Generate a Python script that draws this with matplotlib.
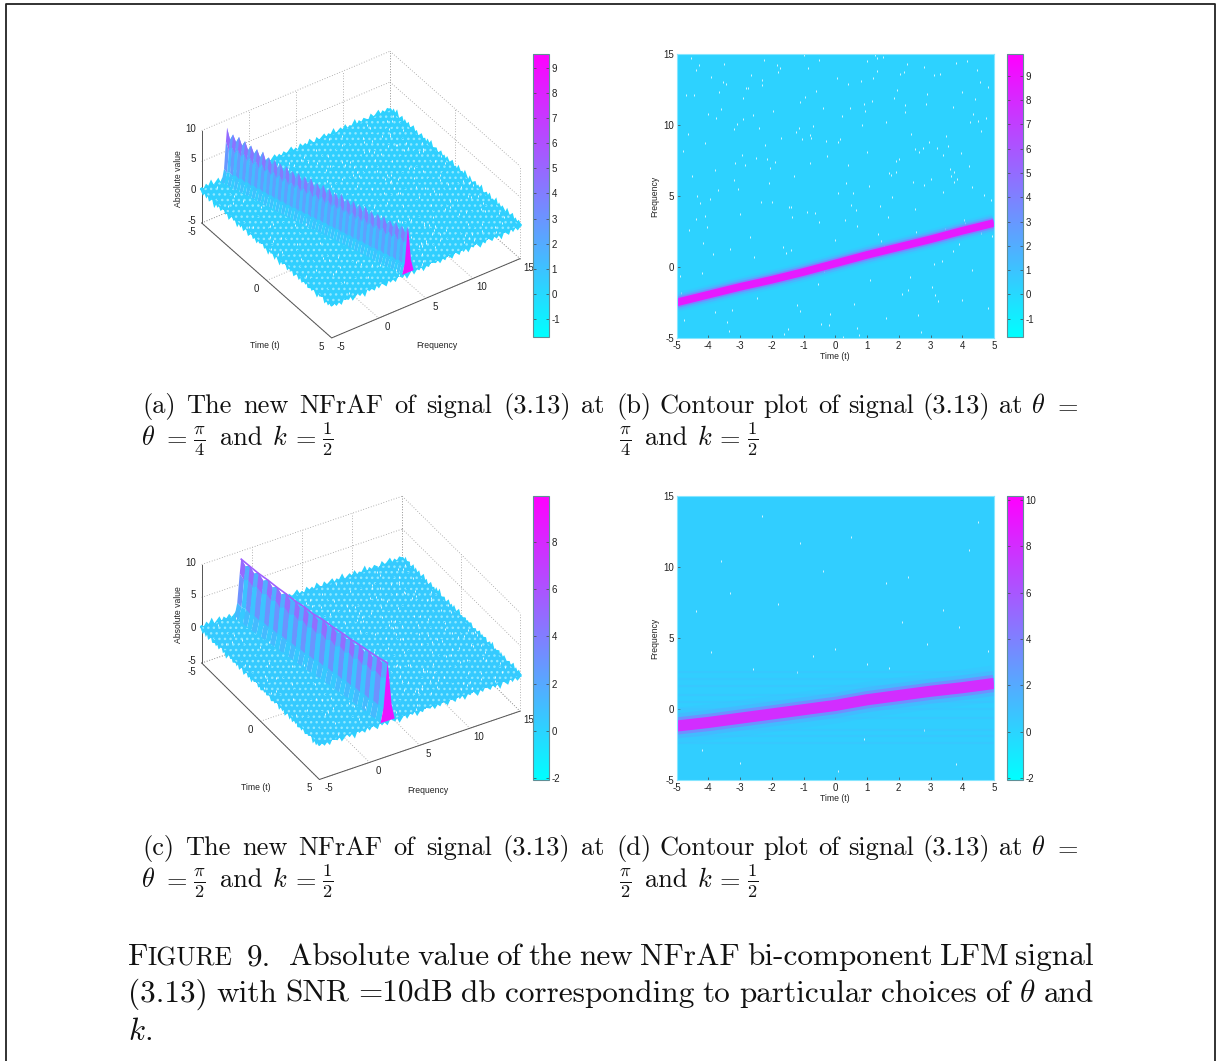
import numpy as np
import matplotlib
matplotlib.use("Agg")
import matplotlib.pyplot as plt
from matplotlib.cm import ScalarMappable
from matplotlib.colors import Normalize
from matplotlib.lines import Line2D
from mpl_toolkits.mplot3d import proj3d
from mpl_toolkits.mplot3d.art3d import Poly3DCollection

W, H = 1216, 1061
plt.rcParams["font.family"] = ["Liberation Sans", "DejaVu Sans"]
plt.rcParams["mathtext.fontset"] = "cm"
plt.rcParams["axes.unicode_minus"] = False
plt.rcParams["hatch.color"] = "#90e8ff"
SERIF = "cmr10"

# ticks
time_ticks = [-5, -4, -3, -2, -1, 0, 1, 2, 3, 4, 5]
time_ticks_3d = [-5, 0, 5]
freq_ticks = [-5, 0, 5, 10, 15]
freq_ticks_3d = [-5, 0, 5, 10, 15]
abs_ticks = [-5, 0, 5, 10]

# colour bars
bar_a_range = (-1.73, 9.57)
bar_a_ticks = [-1, 0, 1, 2, 3, 4, 5, 6, 7, 8, 9]
bar_b_range = (-1.75, 9.89)
bar_b_ticks = [-1, 0, 1, 2, 3, 4, 5, 6, 7, 8, 9]
bar_c_range = (-2.1, 9.97)
bar_c_ticks = [-2, 0, 2, 4, 6, 8]
bar_d_range = (-2.09, 10.17)
bar_d_ticks = [-2, 0, 2, 4, 6, 8, 10]

# ridge centre
ridge_t = [-5, -4, -3, -2, -1, 0, 1, 2, 3, 4, 5]
ridge_b_f = [-2.5, -1.95, -1.4, -0.9, -0.35, 0.25, 0.85, 1.4, 1.95, 2.55, 3.1]
ridge_d_f = [-1.2, -0.95, -0.65, -0.35, -0.05, 0.25, 0.65, 0.95, 1.25, 1.5, 1.8]

# faint horizontal streaks around the ridge of panel d
band_d_f = [-2.4, -1.9, -1.5, -0.6, 0.0, 0.5, 1.0, 1.6, 2.1, 2.6]

# crest heights of the 3d ridges
a_peak_t = [-4.9, -4.57, -4.24, -3.91, -3.58, -3.25, -2.92, -2.59, -2.26, -1.93, -1.6,
            -1.27, -0.94, -0.61, -0.28, 0.05, 0.38, 0.71, 1.04, 1.37, 1.7, 2.03, 2.36,
            2.69, 3.02, 3.35, 3.68, 4.01, 4.34, 4.67, 5.0]
a_peak_z = [8.6, 8.0, 8.1, 7.9, 7.7, 7.6, 7.7, 7.3, 7.4, 7.3, 7.4, 7.1, 7.3, 7.2, 7.4, 7.1,
            7.3, 7.2, 7.0, 7.3, 7.0, 7.2, 7.1, 7.3, 7.0, 7.1, 7.2, 7.0, 7.2, 7.1, 7.4]
a_valley_z = [6.9, 7.0, 6.9, 6.7, 6.6, 6.5, 6.4, 6.3, 6.3, 6.2, 6.2, 6.2, 6.1, 6.2, 6.2,
              6.2, 6.1, 6.0, 6.1, 6.1, 6.1, 6.0, 6.1, 6.1, 6.0, 6.1, 6.0, 6.1, 6.1, 6.2]
c_peak_t = [-4.9, -4.3, -3.7, -3.05, -2.45, -1.85, -1.2, -0.6, 0.0, 0.6, 1.2, 1.85, 2.45,
            3.05, 3.7, 4.3, 5.0]
c_peak_z = [8.7, 8.6, 8.5, 8.5, 8.4, 8.4, 8.3, 8.4, 8.3, 8.4, 8.3, 8.4, 8.4, 8.5, 8.6, 8.7, 8.9]
c_valley_z = [8.0, 7.9, 7.8, 7.8, 7.7, 7.7, 7.7, 7.7, 7.7, 7.7, 7.7, 7.8, 7.8, 7.9, 8.0, 8.2]

# jagged rim of the noise floor
edge_z = [0.5, 0.1, 0.7, 0.2, 0.9, 0.0, 0.4, 0.8, -0.1, 0.6, 0.2, 0.7, 0.1, 0.5, 0.9, 0.2,
          0.6, -0.1, 0.4, 0.8, 0.3, 0.6, 0.0, 0.7, 0.3, 0.9, 0.1, 0.5, 0.7, 0.0, 0.4, 0.8,
          0.2, 0.6, 0.1, 0.7, 0.3, 0.5, 0.9, 0.2, 0.5, 0.0, 0.8, 0.3, 0.6, 0.1, 0.9, 0.4,
          -0.1, 0.7, 0.2, 0.5, 0.8, 0.1, 0.6, 0.3, 0.9, 0.0, 0.4, 0.7, 0.2, 0.8, 0.1, 0.5,
          0.3, 0.9, -0.1, 0.6, 0.2, 0.7, 0.4, 0.0, 0.8, 0.3, 0.5, 0.9, 0.1, 0.6, 0.2, 0.7, 0.4]

# white flecks (holes in the mesh), approximate
speck_t = [-4.7, -4.4, -4.1, -3.8, -3.5, -3.2, -2.9, -2.6, -2.3, -2.0, -1.7, -1.4, -1.1, -0.8, -0.5,
           -0.2, 0.1, 0.4, 0.7, 1.0, 1.3, 1.6, 1.9, 2.2, 2.5, 2.8, 3.1, 3.4, 3.7, 4.0, 4.3, 4.6,
           -4.5, -3.9, -3.3, -2.4, -1.5, -0.6, 0.5, 1.5, 2.3, 3.2, 4.1, 4.8, -4.2, -3.1, -2.1,
           -1.2, -0.3, 0.8, 1.8, 2.7, 3.6, 4.4, -4.8, -3.6, -2.7, -1.8, -0.9, 0.2, 1.1, 2.0,
           2.9, 3.9, 4.7, -4.3, -3.4, -2.2, -1.3, -0.4, 0.6, 1.4, 2.4, 3.3, 4.2, -4.6, -3.7,
           -2.8, -1.6, -0.7, 0.3, 1.2, 2.1, 3.0, 3.8, 4.5, -4.0, -3.0, -1.9, -1.0, 0.0, 0.9,
           1.7, 2.6, 3.5, 4.9, -4.9, -3.2, -2.5, -1.1, 0.4, 1.6, 2.8, 4.0, -4.4, -2.9, -1.4,
           0.1, 1.3, 2.5, 3.4, 4.6, -3.8, -2.3, -0.8, 0.7, 1.9, 3.1, 4.3, -4.1, -2.6, -0.5,
           1.0, 2.2, 3.7, 4.8,
           -4.65, -4.15, -3.55, -3.05, -2.45, -1.95, -1.35, -0.85, -0.25, 0.25, 0.85, 1.35, 1.95, 2.45,
           3.05, 3.55, 4.15, 4.65, -4.35, -3.75, -3.25, -2.65, -2.05, -1.55, -0.95, -0.45, 0.15, 0.65,
           1.25, 1.75, 2.35, 2.85, 3.45, 3.95, 4.55, -4.85, -4.25, -3.65, -3.15, -2.55, -1.85, -1.25,
           -0.65, -0.15, 0.45, 1.05, 1.55, 2.15, 2.75, 3.25, 3.85, 4.35, 4.95, -4.55, -3.95, -3.35,
           -2.75, -2.15, -1.65, -1.05, -0.55, 0.05, 0.55, 1.15, 1.65, 2.25, 2.95, 3.35, 3.75, 4.25,
           -4.75, -4.05, -3.45, -2.85, -2.35, -1.75, -1.15, -0.35, 0.35, 0.95, 1.45, 2.05, 2.65, 3.15,
           3.65, 4.05, 4.75, -4.45, -3.85, -2.95, -2.25, -1.45, -0.75, 0.75, 1.85, 2.55, 3.75, 4.45]
speck_f = [12.1, 3.4, 8.7, -3.2, 14.3, 6.1, 10.4, -1.1, 13.2, 4.6, 9.1, 1.2, 11.6, 7.3, 14.6,
           -4.1, 5.2, 12.9, 2.9, 8.1, 13.8, -3.6, 6.7, 10.9, 4.1, 14.1, 0.2, 7.9, 11.3, -2.3,
           5.6, 9.6, 6.4, 13.4, 1.3, 9.8, -4.4, 12.4, 4.4, 14.8, -1.6, 8.4, 3.1, 12.7, -0.4,
           10.1, 5.9, -2.7, 8.9, 13.1, 4.9, -4.6, 6.9, 11.8, 8.2, 11.1, 2.1, 13.7, 3.9, 10.6,
           -0.9, 7.6, 12.2, 1.6, 5.1, 14.2, -3.9, 8.6, 6.4, 11.2, -2.6, 4.3, 9.4, 13.6, 7.1,
           2.6, 5.4, 12.6, -4.7, 9.9, 3.3, 13.3, -1.9, 6.2, 14.4, 10.3, 10.8, 3.7, 7.4, 14.9,
           1.9, 11.5, 6.6, -3.4, 9.2, 4.7, -0.6, 9.7, 7.7, -3.1, 7.2, 10.2, 5.8, 12.3, 13.9,
           11.9, 4.2, 8.8, 14.7, 8.3, 5.3, 2.4, 6.8, 12.8, 9.3, -4.3, 7.5, 13.5, -0.2, 3.6,
           10.7, 3.2, 14.5, 11.4, 1.1, -2.9,
           9.4, 1.7, 13.0, 5.5, -2.2, 11.0, 3.5, 14.0, 7.8, -4.9, 10.0, 2.3, 12.5, 6.0, -1.4, 8.5,
           14.5, 3.0, 5.0, 10.5, -3.0, 13.5, 7.0, 1.0, 12.0, -4.0, 9.0, 4.0, 14.9, 6.5, -0.7, 11.5,
           2.7, 8.0, 13.0, -1.8, 4.5, 12.3, 7.3, 0.7, 14.2, 9.5, 3.8, -3.3, 11.2, 5.7, 1.5, 13.7,
           8.4, -2.4, 6.2, 10.8, 2.2, 14.7, 4.8, -4.5, 12.6, 7.6, 1.4, 9.0, -1.2, 13.3, 5.2, 11.7,
           3.5, 14.3, 8.8, 0.4, 6.7, 10.2, -3.7, 2.8, 12.9, 7.2, 4.6, 14.0, 9.8, -0.3, 5.9, 11.0,
           1.8, 13.6, 8.1, -2.0, 6.4, 3.3, 10.5, 12.1, 0.9, 7.9, 14.6, 4.2, 9.1, -4.8, 11.9, 2.5,
           6.0, 13.9]
speck_d_t = [-4.4, -3.9, -3.3, -2.6, -1.8, -1.2, -0.7, 0.0, 0.5, 1.0, 1.7, 2.3, 2.9, 3.4, 3.9,
             4.5, 4.8, -4.2, -3.0, -1.1, 0.1, 1.6, 2.8, 3.8, -3.6, -2.3, -0.4, 0.9, 2.1, 4.2]
speck_d_f = [6.9, 4.0, 8.2, 2.8, 7.4, 2.6, 3.7, 4.2, 12.1, 3.2, 2.9, 9.3, 4.6, 7.0, 5.8,
             13.2, 4.1, -2.9, -3.8, 11.7, -4.4, 8.9, -1.5, -3.9, 10.4, 13.6, 9.7, -2.1, 6.1, 11.2]

cmap = plt.get_cmap("cool")
frame_grey = "#555555"


def axes_px(x0, y0, x1, y1):
    return [x0 / W, 1 - y1 / H, (x1 - x0) / W, (y1 - y0) / H]


def add_bar(box, rng, ticks):
    cax = fig.add_axes(axes_px(*box), zorder=20)
    sm = ScalarMappable(Normalize(*rng), cmap)
    cb = fig.colorbar(sm, cax=cax, ticks=ticks)
    cb.outline.set_edgecolor("#5f8f96")
    cb.outline.set_linewidth(0.8)
    cax.tick_params(direction="in", length=2, width=0.5, labelsize=7, pad=2, color="#444444",
                    left=True, right=True, labelcolor="#222222")
    return cb


def contour_panel(box, ridge_f, rng, specks, widths, alphas, core, bands=()):
    ax = fig.add_axes(axes_px(*box))
    norm = Normalize(*rng)
    ax.set_facecolor(cmap(norm(0.3)))
    for f in bands:
        ax.axhline(f, color=cmap(norm(1.1)), lw=1.6, alpha=0.3)
    ax.scatter(specks[0], specks[1], marker="|", s=3, linewidths=0.7, color="white", alpha=0.8)
    for w, val, al in zip(widths, [1.2, 2.4, 4.5, core], alphas):
        ax.plot(ridge_t, ridge_f, color=cmap(norm(val)), lw=w, alpha=al, solid_capstyle="butt")
    ax.set_xlim(-5, 5)
    ax.set_ylim(-5, 15)
    ax.set_xticks(time_ticks)
    ax.set_yticks(freq_ticks)
    ax.tick_params(direction="in", length=2, width=0.5, labelsize=7, pad=2, color="#444444",
                   labelcolor="#222222")
    ax.set_xlabel("Time (t)", fontsize=6.2, labelpad=1, color="#222222")
    ax.set_ylabel("Frequency", fontsize=6.2, labelpad=3, color="#222222")
    for s in ax.spines.values():
        s.set_color("#86e6ff")
        s.set_linewidth(0.8)
    return ax


def place_3d(ax, left_px, right_px):
    # scale and shift the square 3d axes so the floor corners land on the given pixels
    M = ax.get_proj()
    x0, y0, _ = proj3d.proj_transform(-5, -5, -5, M)
    x1, y1, _ = proj3d.proj_transform(5, 15, -5, M)
    xa, xb = ax.viewLim.intervalx
    ya, yb = ax.viewLim.intervaly
    side = (right_px[0] - left_px[0]) / (x1 - x0) * (xb - xa)
    ax_left = left_px[0] - (x0 - xa) / (xb - xa) * side
    ax_bot = (H - left_px[1]) - (y0 - ya) / (yb - ya) * side
    ax.set_position([ax_left / W, ax_bot / H, side / W, side / H])


def surface_panel(box_left, box_right, view, zbox, rng, peak_t, peak_z, valley_z, ridge_f,
                  shades, width, offs, crest_col):
    ax = fig.add_axes([0, 0, 1, 1], projection="3d", proj_type="ortho", computed_zorder=False)
    ax.set_xlim(-5, 5)
    ax.set_ylim(-5, 15)
    ax.set_zlim(-5, 10)
    ax.set_box_aspect((1, 1, zbox))
    ax.view_init(elev=view[0], azim=view[1])
    ax.set_axis_off()
    place_3d(ax, box_left, box_right)
    norm = Normalize(*rng)

    # grid on the floor and on the two back walls
    grid = dict(color="#9a9a9a", lw=0.6, ls=(0, (1, 2.2)), zorder=1)
    for t in time_ticks_3d:
        ax.plot([t, t], [-5, 15], [-5, -5], **grid)
        ax.plot([t, t], [15, 15], [-5, 10], **grid)
    for f in freq_ticks_3d:
        ax.plot([-5, 5], [f, f], [-5, -5], **grid)
        ax.plot([-5, -5], [f, f], [-5, 10], **grid)
    for z in abs_ticks:
        ax.plot([-5, -5], [-5, 15], [z, z], **grid)
        ax.plot([-5, 5], [15, 15], [z, z], **grid)
    ax.plot([-5, 5, 5], [-5, -5, 15], [-5, -5, -5], color=frame_grey, lw=0.7, zorder=1.5)
    ax.plot([-5, -5], [-5, -5], [-5, 10], color=frame_grey, lw=0.7, zorder=1.5)

    floor_col = cmap(norm(0.4))
    rim = dict(color=cmap(norm(0.1)), lw=2.0, solid_joinstyle="miter")
    rim_t = np.linspace(-5, 5, len(edge_z))
    rim_f = np.linspace(-5, 15, len(edge_z))
    tn = np.array(ridge_t, float)
    fn = np.array(ridge_f, float)
    half = offs[-1]

    # floor behind the ridge
    ax.plot(np.full(len(edge_z), -5.0), rim_f, edge_z, zorder=2, **rim)
    ax.plot(rim_t, np.full(len(edge_z), 15.0), edge_z, zorder=2, **rim)
    ax.plot(np.full(len(edge_z), 5.0), rim_f, edge_z[::-1], zorder=2, **rim)
    F = np.column_stack([fn + half, np.full(len(tn), 15.0)])
    T = np.column_stack([tn, tn])
    back = ax.plot_surface(T, F, np.full(T.shape, 0.4), color=floor_col, shade=False, linewidth=0,
                           antialiased=False, zorder=2)
    back.set_hatch("...")
    st = np.array(speck_t)
    sf = np.array(speck_f)
    behind = sf > np.interp(st, tn, fn)
    ax.scatter(st[behind], sf[behind], np.full(behind.sum(), 0.5), marker="|", s=3, linewidths=0.7,
               color="white", alpha=0.85, depthshade=False, zorder=3)

    # ridge: peaks alternate with valleys, streaked by the shades
    peak_t = np.array(peak_t)
    nodes_t = np.empty(2 * len(peak_t) - 1)
    nodes_z = np.empty(2 * len(peak_t) - 1)
    nodes_t[0::2] = peak_t
    nodes_t[1::2] = (peak_t[:-1] + peak_t[1:]) / 2
    nodes_z[0::2] = peak_z
    nodes_z[1::2] = valley_z
    nodes_s = np.where(np.arange(len(nodes_t)) % 2 == 0, shades[0], shades[1])
    centre = np.interp(nodes_t, tn, fn)
    RT = np.tile(nodes_t[:, None], (1, len(offs)))
    RF = centre[:, None] + np.array(offs)
    RZ = 0.4 + nodes_z[:, None] * np.array(width)
    # a face takes its colour from its upper edge
    tops = np.column_stack([RZ[:, 1:], RZ[:, -1]])
    vals = tops * nodes_s[:, None]
    top_row = len(offs) // 2 - 1
    vals[:, top_row] = tops[:, top_row] * (nodes_s + shades[2])
    colours = cmap(norm(np.maximum(vals, 0.45)))
    ax.plot_surface(RT, RF, RZ, facecolors=colours, shade=False, rstride=1, cstride=1, linewidth=0,
                    antialiased=True, zorder=4)
    if crest_col is not None:
        ax.plot(peak_t, np.interp(peak_t, tn, fn), np.array(peak_z) + 0.3, color=cmap(norm(crest_col)),
                lw=1.2, zorder=4.5)

    # floor in front of the ridge
    ax.plot(rim_t, np.full(len(edge_z), -5.0), edge_z, zorder=5, **rim)
    F = np.column_stack([np.full(len(tn), -5.0), fn - half])
    front = ax.plot_surface(T, F, np.full(T.shape, 0.4), color=floor_col, shade=False, linewidth=0,
                            antialiased=False, zorder=5)
    front.set_hatch("...")
    ax.scatter(st[~behind], sf[~behind], np.full((~behind).sum(), 0.5), marker="|", s=3, linewidths=0.7,
               color="white", alpha=0.85, depthshade=False, zorder=6)

    # magenta cut through the ridge at the last time sample
    cap = list(zip(np.full(len(offs), 5.0), fn[-1] + np.array(offs), RZ[-1]))
    ax.add_collection3d(Poly3DCollection([cap], facecolor=cmap(norm(rng[1] - 0.9)),
                                         edgecolor="none", zorder=7))
    return ax


def tick_text(ax, x, y, z, s, dx, dy, ha="center", rotation=0, size=7):
    px, py, _ = proj3d.proj_transform(x, y, z, ax.get_proj())
    ax.annotate(s, (px, py), xytext=(dx, dy), textcoords="offset pixels", ha=ha, va="center",
                fontsize=size, color="#222222", rotation=rotation, annotation_clip=False, zorder=30)


def label_3d(ax, off_time, off_freq, off_abs):
    for t in time_ticks_3d:
        tick_text(ax, t, -5, -5, str(t), -10, -9)
    for f in freq_ticks_3d:
        tick_text(ax, 5, f, -5, str(f), 9, -9)
    for z in abs_ticks:
        tick_text(ax, -5, -5, z, str(z), -6, 2, ha="right")
    tick_text(ax, 5, -5, -5, "Time (t)", *off_time, size=6.2)
    tick_text(ax, 5, -5, -5, "Frequency", *off_freq, size=6.2)
    tick_text(ax, -5, -5, -5, "Absolute value", *off_abs, rotation=90, size=6.2)


def put(x, y, s, size):
    return fig.text(x / W, 1 - y / H, s, fontsize=size, family=SERIF, va="baseline", color="#111111")


def justified(words, x0, x1, y, size):
    # even word gaps between x0 and x1, like the typeset original
    r = fig.canvas.get_renderer()
    items = [put(x0, y, w, size) for w in words]
    widths = [t.get_window_extent(r).width for t in items]
    gap = (x1 - x0 - sum(widths)) / (len(words) - 1)
    x = x0
    for t, w in zip(items, widths):
        t.set_x(x / W)
        x += w + gap


def second_line(x, y, size, theta, frac):
    # lines with the fraction are set piece by piece to keep the math spacing
    if theta:
        put(x, y, r"$\theta$", size)
        put(x + 21, y, "$=$", size)
        put(x + 52, y, frac, size)
        x += 79
        put(x, y, "and", size)
        put(x + 52, y, "$k$", size)
        put(x + 71, y, "$=$", size)
        put(x + 102, y, r"$\frac{1}{2}$", size)
    else:
        put(x, y, frac, size)
        x += 26
        put(x, y, "and", size)
        put(x + 52, y, "$k$", size)
        put(x + 70, y, "$=$", size)
        put(x + 102, y, r"$\frac{1}{2}$", size)


fig = plt.figure(figsize=(W / 100, H / 100), dpi=100)
fig.add_artist(Line2D([6 / W, 6 / W, 1215 / W, 1215 / W], [0, 1 - 4 / H, 1 - 4 / H, 0],
                      color="#222222", lw=1.3))

ax_a = surface_panel((201.7, 223), (520, 259), (37.6, -34.6), 0.51, bar_a_range, a_peak_t, a_peak_z,
                     a_valley_z, ridge_b_f, (0.42, 0.24, 0.12), [0, 0.25, 0.75, 1, 0.75, 0.25, 0],
                     [-0.6, -0.32, -0.12, 0, 0.12, 0.32, 0.6], None)
label_3d(ax_a, (-67, -8), (105, -8), (-23, 44))
add_bar((533, 54, 549, 337), bar_a_range, bar_a_ticks)

contour_panel((676.5, 54, 994, 338), ridge_b_f, bar_b_range, (speck_t, speck_f),
              (14, 11, 8, 5.5), (0.35, 0.5, 0.7, 1), 8.7)
add_bar((1007, 54, 1023, 337), bar_b_range, bar_b_ticks)

ax_c = surface_panel((201.7, 663), (520, 711.7), (35.5, -30.4), 0.52, bar_c_range, c_peak_t, c_peak_z,
                     c_valley_z, ridge_d_f, (0.45, 0.12, 0.1), [0, 0.25, 0.75, 1, 0.75, 0.25, 0],
                     [-0.7, -0.4, -0.15, 0, 0.15, 0.4, 0.7], 5.4)
label_3d(ax_c, (-64, -8), (108, -11), (-23, 48))
add_bar((533, 496, 549, 780), bar_c_range, bar_c_ticks)

contour_panel((676.5, 496, 994, 780), ridge_d_f, bar_d_range, (speck_d_t, speck_d_f),
              (26, 18, 12.5, 8), (0.22, 0.35, 0.6, 1), 8.0, band_d_f)
add_bar((1007, 496, 1023, 780), bar_d_range, bar_d_ticks)

# captions
sub = 19
justified(["(a)", "The", "new", "NFrAF", "of", "signal", "(3.13)", "at"], 142, 605, 413, sub)
second_line(141, 445, sub, True, r"$\frac{\pi}{4}$")
justified(["(b)", "Contour", "plot", "of", "signal", "(3.13)", "at", r"$\theta$", "$=$"], 616, 1079, 413, sub)
second_line(619, 445, sub, False, r"$\frac{\pi}{4}$")
justified(["(c)", "The", "new", "NFrAF", "of", "signal", "(3.13)", "at"], 142, 605, 855, sub)
second_line(141, 887, sub, True, r"$\frac{\pi}{2}$")
justified(["(d)", "Contour", "plot", "of", "signal", "(3.13)", "at", r"$\theta$", "$=$"], 616, 1079, 855, sub)
second_line(619, 887, sub, False, r"$\frac{\pi}{2}$")

cap = 22.5
put(128, 965, "F", cap)
put(147, 965, "IGURE", 18.5)
put(247, 965, "9.", cap)
justified(["Absolute", "value", "of", "the", "new", "NFrAF", "bi-component", "LFM", "signal"],
          289, 1094, 965, cap)
justified(["(3.13)", "with", "SNR", "=10dB", "db", "corresponding", "to", "particular", "choices", "of",
           r"$\theta$", "and"], 128, 1094, 1002, cap)
put(128, 1040, "$k$.", cap)

fig.savefig("out.png", dpi=100)
